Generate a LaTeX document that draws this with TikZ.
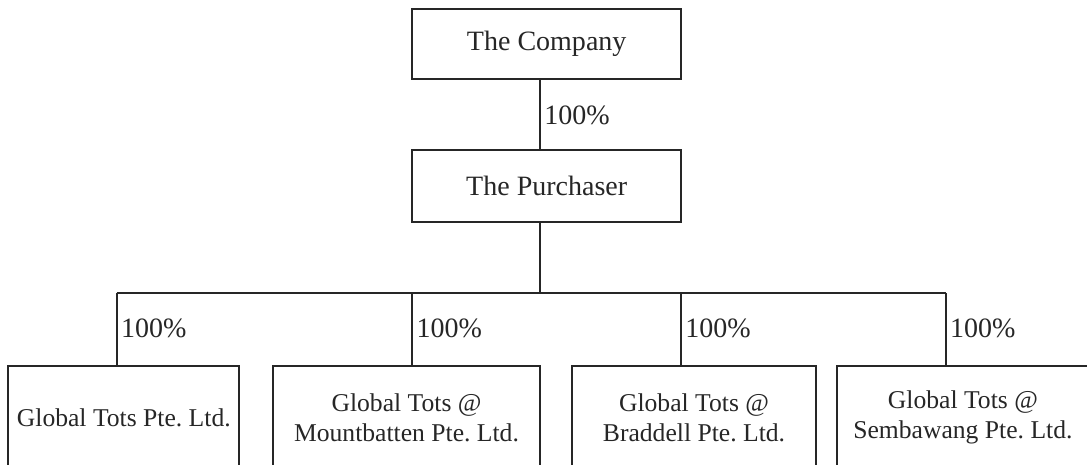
\documentclass[tikz,border=0pt]{standalone}
\usepackage{fontspec}
\setmainfont{Liberation Serif}
\frenchspacing
\tikzset{
  box/.style={draw, inner sep=0pt, align=center, font=\fontsize{7.97pt}{8.54pt}\selectfont},
  kid/.style={box, anchor=north, minimum height=1.03cm, font=\fontsize{7.29pt}{8.54pt}\selectfont},
  pct/.style={anchor=west, inner sep=1pt, font=\fontsize{7.97pt}{8.54pt}\selectfont},
}
\begin{document}
\begin{tikzpicture}[line width=0.5pt, color=black!85]
        \useasboundingbox (0,0) rectangle (10.87,4.65);
        \clip (0,0) rectangle (10.87,4.65);
        \node [box, minimum width=2.687cm, minimum height=0.70cm] (company) at(5.467,4.207) {The Company};
        \node [box, minimum width=2.687cm, minimum height=0.72cm] (purchaser) at(5.467,2.787) {The Purchaser};
        \coordinate (hub) at(5.40,1.717);
        \coordinate (d1) at(1.167,1.717);
        \coordinate (d2) at(4.123,1.717);
        \coordinate (d3) at(6.81,1.717);
        \coordinate (d4) at(9.457,1.717);
        \node [kid, minimum width=2.31cm] (gt) at(1.238,1.00) {Global Tots Pte. Ltd.};
        \node [kid, minimum width=2.67cm] (gtm) at(4.065,1.00) {Global Tots @\\Mountbatten Pte. Ltd.};
        \node [kid, minimum width=2.44cm] (gtb) at(6.94,1.00) {Global Tots @\\Braddell Pte. Ltd.};
        \node [kid, minimum width=2.523cm] (gts) at(9.629,1.00) {Global Tots @\\Sembawang Pte. Ltd.};
        \draw [] (hub |- company.south) -- (hub |- purchaser.north);
        \draw [] (hub |- purchaser.south) -- (hub);
        \draw [] (d1) -- (d4);
        \draw [] (d1) -- (d1 |- gt.north);
        \draw [] (d2) -- (d2 |- gtm.north);
        \draw [] (d3) -- (d3 |- gtb.north);
        \draw [] (d4) -- (d4 |- gts.north);
        \node [pct] (pc) at(5.40,3.495) {100\%};
        \node [pct] (p1) at(1.167,1.37) {100\%};
        \node [pct] (p2) at(4.123,1.37) {100\%};
        \node [pct] (p3) at(6.81,1.37) {100\%};
        \node [pct] (p4) at(9.457,1.37) {100\%};
\end{tikzpicture}
\end{document}
